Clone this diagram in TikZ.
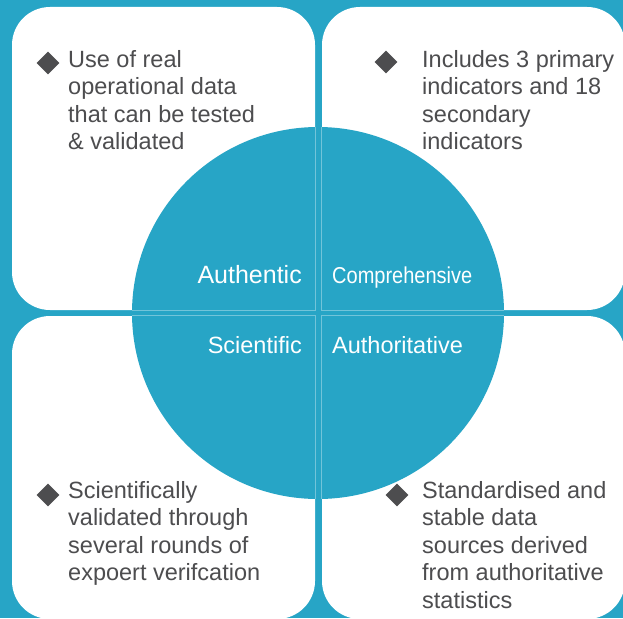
\documentclass[tikz,border=0pt]{standalone}
\usepackage{fontspec}
\setmainfont{Liberation Sans}
\usetikzlibrary{shapes.geometric}
\definecolor{quadblue}{HTML}{27A5C6}
\definecolor{quadgrey}{HTML}{4D4D4F}
\tikzset{
whiteboxv1/.style={rectangle, fill=white, draw=none, rounded corners=38pt, inner sep=0pt, minimum width=303pt, minimum height=303pt},
boxedgev1/.style={draw=white, draw opacity=0.35, line width=0.8pt},
bluediscv1/.style={circle, fill=quadblue, draw=none, inner sep=0pt, minimum size=372pt},
bulletv1/.style={diamond, fill=quadgrey, draw=none, inner sep=0pt, minimum width=23pt, minimum height=23pt},
greytextv1/.style={text=quadgrey, align=left, inner sep=0pt, anchor=base west, font=\fontsize{23.5}{27.5}\selectfont},
whitetextv1/.style={text=white, inner sep=0pt},
}
\begin{document}
\begin{tikzpicture}[x=1pt,y=-1pt]
  \useasboundingbox (0,0) rectangle (623,618);
  \clip (0,0) rectangle (623,618);
  \fill[quadblue] (0,0) rectangle (623,618);

  \node[whiteboxv1] at (163.5,158.5) (tl) {};
  \node[whiteboxv1] at (473.5,158.5) (tr) {};
  \node[whiteboxv1] at (163.5,467.5) (bl) {};
  \node[whiteboxv1] at (473.5,467.5) (br) {};

  \node[bluediscv1] at (318,313) (disc) {};
  \begin{scope}
    \clip (disc.center) circle[radius=186pt];
    \draw[boxedgev1] (tl.north east) -- (tl.south east) -- (tl.south west);
    \draw[boxedgev1] (tr.north west) -- (tr.south west) -- (tr.south east);
    \draw[boxedgev1] (bl.north west) -- (bl.north east) -- (bl.south east);
    \draw[boxedgev1] (br.north east) -- (br.north west) -- (br.south west);
  \end{scope}

  \node[whitetextv1, anchor=base east, font=\fontsize{25}{28}\selectfont] at (302,283) (authentic) {Authentic};
  \node[whitetextv1, anchor=base west, font=\fontsize{23}{28}\selectfont] at (332,283) (comprehensive) {\scalebox{0.87}[1]{Comprehensive}};
  \node[whitetextv1, anchor=base east, font=\fontsize{23.5}{28}\selectfont] at (302,353) (scientific) {Scientific};
  \node[whitetextv1, anchor=base west, font=\fontsize{23.5}{28}\selectfont] at (332,353) (authoritative) {Authoritative};

  \node[bulletv1] at (48,63) (tlbullet) {};
  \node[greytextv1] at (68,149.5) (tltext) {Use of real\\operational data\\that can be tested\\\& validated};
  \node[bulletv1] at (386,62) (trbullet) {};
  \node[greytextv1] at (422,149.5) (trtext) {Includes 3 primary\\indicators and 18\\secondary\\indicators};
  \node[bulletv1] at (48,495) (blbullet) {};
  \node[greytextv1] at (68,580.5) (bltext) {Scientifically\\validated through\\several rounds of\\expoert verifcation};
  \node[bulletv1] at (397,495) (brbullet) {};
  \node[greytextv1] at (422,608) (brtext) {Standardised and\\stable data\\sources derived\\from authoritative\\statistics};
\end{tikzpicture}
\end{document}
